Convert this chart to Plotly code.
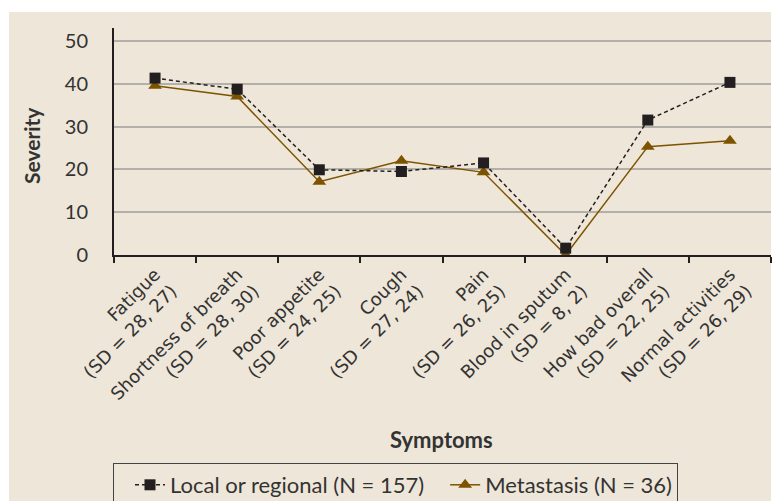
import plotly.graph_objects as go

categories = ["Fatigue<br>(SD = 28, 27)", "Shortness of breath<br>(SD = 28, 30)",
              "Poor appetite<br>(SD = 24, 25)", "Cough<br>(SD = 27, 24)",
              "Pain<br>(SD = 26, 25)", "Blood in sputum<br>(SD = 8, 2)",
              "How bad overall<br>(SD = 22, 25)", "Normal activities<br>(SD = 26, 29)"]
local_vals = [41.3, 38.7, 19.9, 19.5, 21.5, 1.6, 31.5, 40.3]
meta_vals = [39.5, 37.0, 17.1, 22.0, 19.3, 0.0, 25.3, 26.7]
y_ticks = [0, 10, 20, 30, 40, 50]

BEIGE = "#EEE6D8"
BROWN = "#7D5300"
DARK = "#231F20"
FONT = "Lato"
TICKFONT = "DejaVu Sans"

fig = go.Figure()
fig.add_trace(go.Scatter(
    x=categories, y=meta_vals, name="Metastasis (N = 36)",
    mode="lines+markers", legendrank=2,
    line=dict(color=BROWN, width=1.5),
    marker=dict(symbol="triangle-up", size=12, color=BROWN)))
fig.add_trace(go.Scatter(
    x=categories, y=local_vals, name="Local or regional (N = 157)",
    mode="lines+markers", legendrank=1,
    line=dict(color=DARK, width=1.5, dash="4px,3px"),
    marker=dict(symbol="square", size=11, color=DARK)))

L, R, T, B = 114, 4, 28, 246
W, H = 775, 501
pw, ph = W - L - R, H - T - B

def px_x(p):
    return (p - L) / pw

def px_y(p):
    return (H - B - p) / ph

fig.add_shape(type="rect", xref="paper", yref="paper",
              x0=px_x(9), x1=px_x(771), y0=px_y(501), y1=px_y(12),
              fillcolor=BEIGE, line=dict(width=0), layer="below")

fig.update_layout(
    width=W, height=H,
    margin=dict(l=L, r=R, t=T, b=B, pad=0, autoexpand=False),
    paper_bgcolor="white", plot_bgcolor="rgba(0,0,0,0)",
    font=dict(family=FONT, color="#333333"),
    showlegend=True,
    legend=dict(orientation="h", x=px_x(113), y=px_y(463), xanchor="left", yanchor="top",
                bgcolor=BEIGE, bordercolor="#444444", borderwidth=1,
                font=dict(family=FONT, size=22, color="#333333"),
                itemwidth=30, tracegroupgap=0, indentation=16),
    annotations=[
        dict(text="<b>Symptoms</b>", xref="paper", yref="paper", x=px_x(441), y=px_y(439),
             xanchor="center", yanchor="middle",
             showarrow=False, font=dict(family=FONT, size=22, color="#333333")),
        dict(text="<b>Severity</b>", xref="paper", yref="paper", x=px_x(31), y=px_y(146),
             xanchor="center", yanchor="middle",
             textangle=-90, showarrow=False, font=dict(family=FONT, size=21, color="#333333")),
    ],
)
fig.update_xaxes(showgrid=False, showline=True, linecolor=DARK, linewidth=2,
                 ticks="outside", ticklen=6, tickwidth=2, tickcolor=DARK,
                 tickson="boundaries", tickangle=-45,
                 tickfont=dict(family=TICKFONT, size=18, color="#333333"),
                 range=[-0.5, 7.5], zeroline=False)
fig.update_yaxes(range=[0, 53], tickvals=y_ticks, showgrid=True, gridcolor="#B3B0AA",
                 gridwidth=1.5, showline=True, linecolor=DARK, linewidth=2,
                 ticks="", tickfont=dict(family=FONT, size=20, color="#333333"),
                 zeroline=False, ticklabelstandoff=20)

fig.write_html("out.html", config={"displayModeBar": False},
               post_script="document.body.style.margin='0';document.body.style.padding='0';")
